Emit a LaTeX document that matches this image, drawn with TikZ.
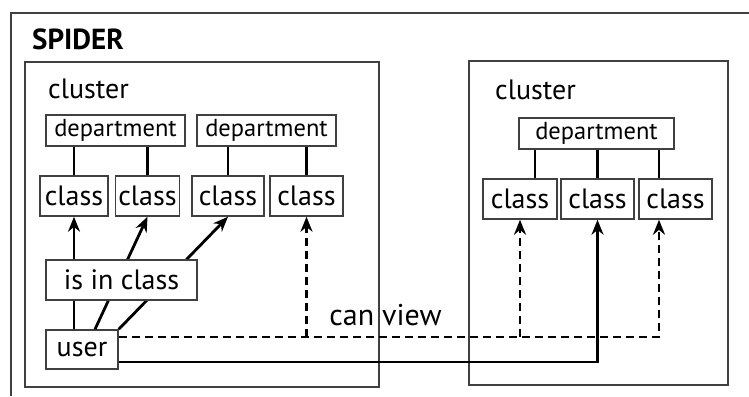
\documentclass[tikz,border=0pt]{standalone}
\usepackage{fontspec}
\setmainfont{PT Sans}
\usetikzlibrary{arrows.meta}
\tikzset{
  box/.style={draw=black!75, line width=1.5pt, fill=white, inner sep=0pt,
    font=\fontsize{28}{30}\selectfont},
  classbox/.style={box, minimum height=40pt},
  deptbox/.style={box, minimum height=31pt, font=\fontsize{24.5}{26}\selectfont},
  clusterbox/.style={draw=black!75, line width=1.5pt},
  tag/.style={inner sep=0pt, font=\fontsize{28}{30}\selectfont},
  link/.style={line width=2.8pt},
  arr/.style={link, -{Stealth[length=15pt,width=12pt]}},
  viewline/.style={arr, dash pattern=on 8pt off 5pt},
}
\begin{document}
\begin{tikzpicture}[x=1pt,y=-1pt]
\useasboundingbox (0,0) rectangle (749,396);
\draw[line width=1.7pt, black!75] (749,13) -- (11,13) -- (11,396);
\node[tag, anchor=base west, font=\bfseries\fontsize{29}{30}\selectfont] (spider) at (32,49) {SPIDER};
% clusters
\node[clusterbox, minimum width=354pt, minimum height=325pt] (clusterA) at (202,224.5){};
\node[clusterbox, minimum width=259pt, minimum height=324pt] (clusterB) at (598.5,223){};
\node[tag, anchor=base west] (clusterAname) at (48,98){cluster};
\node[tag, anchor=base west] (clusterBname) at (495,99){cluster};
% left cluster
\node[deptbox, minimum width=139pt] (depA1) at (115.5,130.5){department};
\node[deptbox, minimum width=139pt] (depA2) at (266.5,130.5){department};
\node[classbox, minimum width=68pt] (clsA1) at (74,196){class};
\node[classbox, minimum width=64pt] (clsA2) at (147.5,196){class};
\node[classbox, minimum width=72pt] (clsA3) at (228,196){class};
\node[classbox, minimum width=73pt] (clsA4) at (306.5,196){class};
\draw[link] (clsA1.north) -- (clsA1.north |- depA1.south);
\draw[link] (clsA2.north) -- (clsA2.north |- depA1.south);
\draw[link] (clsA3.north) -- (clsA3.north |- depA2.south);
\draw[link] (clsA4.north) -- (clsA4.north |- depA2.south);
% right cluster
\node[deptbox, minimum width=155pt] (depB1) at (596.5,133.5){department};
\node[classbox, minimum width=74pt] (clsB1) at (520,199){class};
\node[classbox, minimum width=73pt] (clsB2) at (597.5,199){class};
\node[classbox, minimum width=73pt] (clsB3) at (675.5,199){class};
\draw[link] ([xshift=15pt]clsB1.north) -- ([xshift=15pt]clsB1.north |- depB1.south);
\draw[link] (clsB2.north) -- (clsB2.north |- depB1.south);
\draw[link] ([xshift=-16.5pt]clsB3.north) -- ([xshift=-16.5pt]clsB3.north |- depB1.south);
% user
\node[box, minimum width=72pt, minimum height=39pt] (user) at (82,349.5){user};
\draw[arr] ([xshift=-8pt]user.north) -- (clsA1.south);
\draw[arr] ([xshift=13pt]user.north) -- (clsA2.south);
\draw[arr] (user.north east) -- (clsA3.south);
\node[box, minimum width=151pt, minimum height=40pt] (isin) at (121.5,280){is in class};
% can view
\coordinate (view) at ([yshift=12.5pt]user.east);
\draw[viewline] (view) -| ([xshift=-16.5pt]clsB3.south);
\draw[viewline] (view -| clsA4.south) -- (clsA4.south);
\draw[viewline] (view -| clsB1.south) -- (clsB1.south);
\draw[arr] ([yshift=-12.5pt]user.east) -| (clsB2.south);
\node[tag, anchor=base, font=\fontsize{30}{33}\selectfont] (canview) at (385.5,325){can view};
\end{tikzpicture}
\end{document}
